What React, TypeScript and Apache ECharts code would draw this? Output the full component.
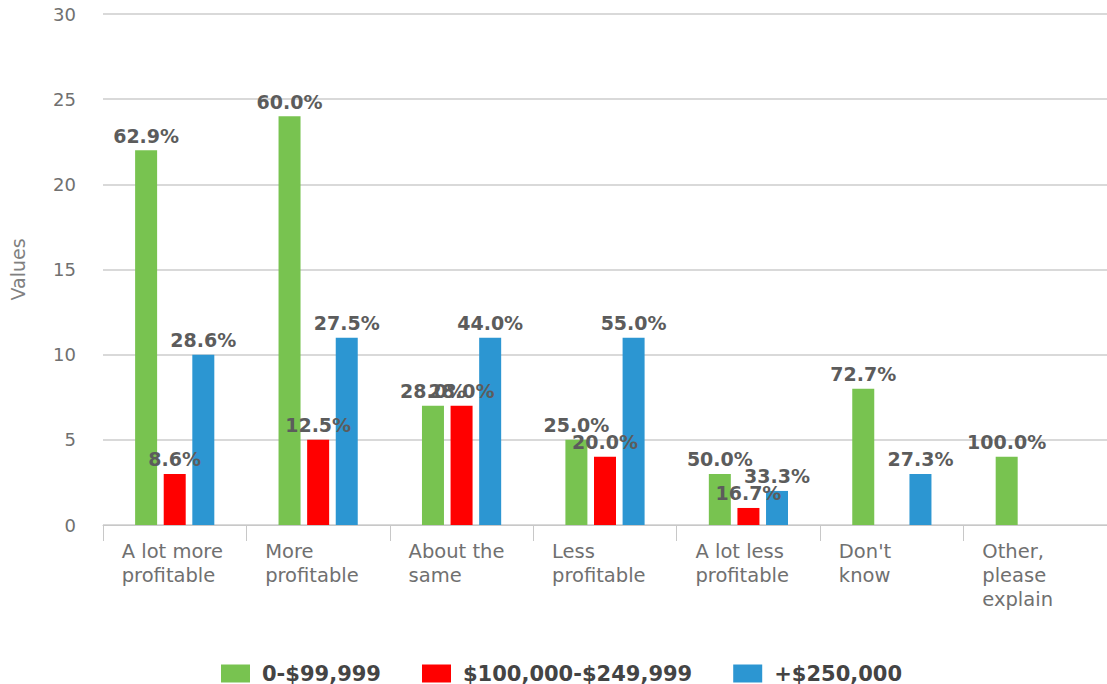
import React, { useEffect, useRef } from "react";
import * as echarts from "echarts";

const categories = [
  "A lot more\nprofitable",
  "More\nprofitable",
  "About the\nsame",
  "Less\nprofitable",
  "A lot less\nprofitable",
  "Don't\nknow",
  "Other,\nplease\nexplain",
];
const seriesNames = ["0-$99,999", "$100,000-$249,999", "+$250,000"];
const lowValues = [22, 24, 7, 5, 3, 8, 4];
const midValues = [3, 5, 7, 4, 1, 0, 0];
const highValues = [10, 11, 11, 11, 2, 3, 0];
const colors = ["#78c350", "#ff0000", "#2c96d2"];
const yTicks = { min: 0, max: 30, interval: 5 };

const allSeries = [lowValues, midValues, highValues];
const totals = categories.map((_, i) => allSeries.reduce((s, arr) => s + arr[i], 0));

export default function App() {
  const ref = useRef<HTMLDivElement>(null);
  useEffect(() => {
    if (!ref.current) return;
    const chart = echarts.init(ref.current, null, { renderer: "svg" });
    const font = "DejaVu Sans";
    chart.setOption({
      animation: false,
      textStyle: { fontFamily: font },
      grid: { left: 97, top: 14, width: 1015, bottom: 159, containLabel: false },
      legend: {
        left: 216,
        top: 658,
        itemWidth: 29,
        itemHeight: 18,
        itemGap: 41,
        icon: "rect",
        formatter: (name: string) => "{s|}{t|" + name + "}",
        textStyle: {
          fontFamily: font,
          fontWeight: "bold",
          fontSize: 21,
          color: "#444",
          rich: {
            s: { width: 7 },
            t: { fontFamily: font, fontWeight: "bold", fontSize: 21, color: "#444" },
          },
        },
        data: seriesNames,
      },
      xAxis: {
        type: "category",
        data: categories,
        axisLine: { lineStyle: { color: "#c8c8c8", width: 1 } },
        axisTick: { show: true, length: 16, lineStyle: { color: "#c8c8c8" } },
        axisLabel: {
          interval: 0,
          margin: 14,
          align: "center",
          formatter: (v: string) =>
            v
              .split("\n")
              .map((l) => "{a|" + l + "}")
              .join("\n"),
          rich: {
            a: {
              width: 106,
              align: "left",
              fontFamily: font,
              fontSize: 19.5,
              lineHeight: 24,
              color: "#707070",
            },
          },
        },
      },
      yAxis: {
        type: "value",
        min: yTicks.min,
        max: yTicks.max,
        interval: yTicks.interval,
        name: "Values",
        nameLocation: "middle",
        nameGap: 76,
        nameTextStyle: { fontFamily: font, fontSize: 19, color: "#808080" },
        axisLine: { show: false },
        axisTick: { show: false },
        axisLabel: { margin: 27, fontFamily: font, fontSize: 18, color: "#707070" },
        splitLine: { lineStyle: { color: "#cccccc", width: 1.5 } },
      },
      series: allSeries.map((arr, si) => ({
        name: seriesNames[si],
        type: "bar",
        data: arr,
        barWidth: 22,
        barGap: "30%",
        itemStyle: { color: colors[si] },
        label: {
          show: true,
          position: "top",
          distance: 5,
          fontFamily: font,
          fontWeight: "bold",
          fontSize: 19,
          color: "#5c5c5c",
          formatter: (p: any) =>
            p.value ? ((p.value / totals[p.dataIndex]) * 100).toFixed(1) + "%" : "",
        },
      })),
    });
    return () => chart.dispose();
  }, []);
  return (
    <div
      ref={ref}
      style={{ position: "fixed", left: 0, top: 0, width: 1107, height: 684, background: "#fff" }}
    />
  );
}
